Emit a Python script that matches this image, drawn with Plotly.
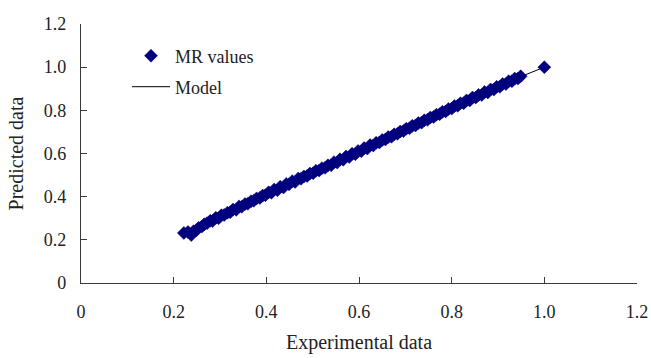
import plotly.graph_objects as go

experimental = [0.222, 0.231, 0.238, 0.243, 0.249, 0.254, 0.261, 0.266, 0.272, 0.279, 0.284, 0.291,
                0.297, 0.303, 0.309, 0.316, 0.322, 0.328, 0.335, 0.341, 0.347, 0.354, 0.360, 0.367,
                0.373, 0.379, 0.386, 0.392, 0.398, 0.405, 0.411, 0.417, 0.424, 0.430, 0.437, 0.443,
                0.449, 0.456, 0.462, 0.469, 0.475, 0.481, 0.488, 0.494, 0.501, 0.507, 0.514, 0.520,
                0.527, 0.533, 0.540, 0.546, 0.553, 0.559, 0.566, 0.572, 0.579, 0.585, 0.592, 0.598,
                0.605, 0.611, 0.618, 0.624, 0.631, 0.637, 0.644, 0.650, 0.657, 0.663, 0.670, 0.676,
                0.683, 0.689, 0.696, 0.702, 0.709, 0.715, 0.722, 0.728, 0.735, 0.741, 0.748, 0.754,
                0.761, 0.767, 0.774, 0.780, 0.787, 0.793, 0.800, 0.806, 0.813, 0.819, 0.826, 0.832,
                0.839, 0.845, 0.852, 0.858, 0.865, 0.871, 0.878, 0.884, 0.891, 0.897, 0.904, 0.910,
                0.917, 0.923, 0.930, 0.936, 0.943, 0.949, 1.000]
predicted = [0.232, 0.236, 0.222, 0.240, 0.244, 0.256, 0.262, 0.272, 0.277, 0.288, 0.287, 0.302,
             0.300, 0.314, 0.315, 0.326, 0.328, 0.340, 0.339, 0.355, 0.353, 0.366, 0.367, 0.379,
             0.381, 0.392, 0.394, 0.405, 0.407, 0.420, 0.418, 0.433, 0.430, 0.446, 0.443, 0.459,
             0.457, 0.472, 0.468, 0.484, 0.483, 0.494, 0.496, 0.507, 0.509, 0.520, 0.521, 0.532,
             0.534, 0.545, 0.546, 0.560, 0.558, 0.573, 0.571, 0.586, 0.584, 0.599, 0.597, 0.612,
             0.611, 0.625, 0.623, 0.639, 0.637, 0.650, 0.651, 0.663, 0.665, 0.676, 0.678, 0.689,
             0.691, 0.702, 0.704, 0.715, 0.717, 0.728, 0.730, 0.741, 0.743, 0.754, 0.756, 0.767,
             0.769, 0.780, 0.782, 0.793, 0.795, 0.806, 0.808, 0.820, 0.821, 0.833, 0.833, 0.846,
             0.846, 0.859, 0.859, 0.871, 0.871, 0.885, 0.883, 0.897, 0.896, 0.909, 0.909, 0.922,
             0.922, 0.935, 0.935, 0.947, 0.947, 0.958, 1.000]

model_x = [0.222, 0.949, 1.000]
model_y = [0.226, 0.956, 1.000]

tick_vals = [0, 0.2, 0.4, 0.6, 0.8, 1.0, 1.2]
tick_text = ["0", "0.2", "0.4", "0.6", "0.8", "1.0", "1.2"]

navy = "#00007F"
font = "Liberation Serif"
txt = "#222222"

fig = go.Figure()
fig.add_trace(go.Scatter(x=model_x, y=model_y, mode="lines", name="Model",
                         line=dict(color="black", width=1), legend="legend2"))
fig.add_trace(go.Scatter(x=experimental, y=predicted, mode="markers", name="MR values",
                         marker=dict(symbol="diamond", size=10, color=navy,
                                     line=dict(color=navy, width=0.5)), legend="legend"))

axis_common = dict(showline=True, linecolor="#3a3a3a", linewidth=1.2, ticks="inside",
                   ticklen=6, tickcolor="#3a3a3a", tickwidth=1.2, showgrid=False,
                   zeroline=False, tickvals=tick_vals, ticktext=tick_text,
                   tickfont=dict(family=font, size=18, color=txt),
                   automargin=False, mirror=False)

legend_common = dict(xref="paper", yref="paper", xanchor="left", yanchor="middle",
                     bgcolor="rgba(0,0,0,0)", font=dict(family=font, size=18, color=txt),
                     itemwidth=38, borderwidth=0)

fig.update_layout(
    width=651, height=358,
    margin=dict(l=81, r=14, t=24, b=75),
    paper_bgcolor="white", plot_bgcolor="white",
    font=dict(family=font, size=18, color=txt),
    showlegend=True,
    legend=dict(x=(127 - 81) / 556, y=(283 - 56) / 259, **legend_common),
    legend2=dict(x=(127 - 81) / 556, y=(283 - 87) / 259, **legend_common),
    xaxis=dict(range=[0, 1.2], ticklabelstandoff=12,
               title=dict(text="Experimental data", standoff=14,
                          font=dict(family=font, size=20, color=txt)), **axis_common),
    yaxis=dict(range=[0, 1.2], ticklabelstandoff=10,
               title=dict(text="Predicted data", standoff=14,
                          font=dict(family=font, size=20, color=txt)), **axis_common),
)

fig.write_html("out.html")
